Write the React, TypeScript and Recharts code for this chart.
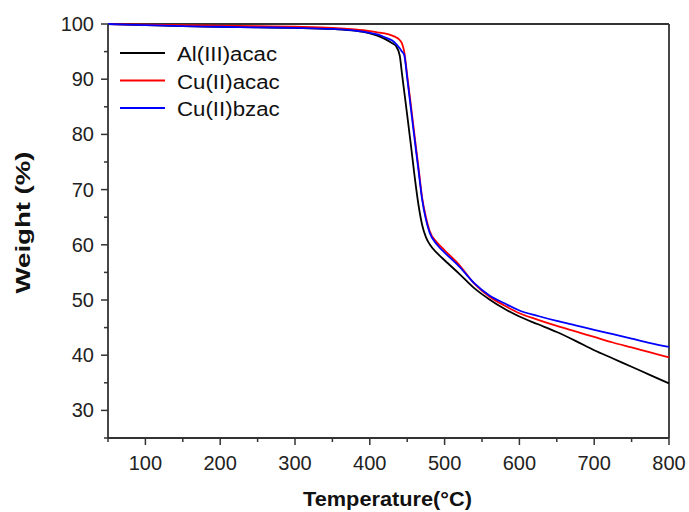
import React from "react";
import { LineChart, Line, XAxis, YAxis, Legend, ReferenceLine } from "recharts";

// TGA curves
const temperature = [50, 100, 150, 200, 250, 300, 350, 380, 400, 410, 420, 430, 435, 440, 443, 446, 450, 455, 460, 465, 470, 475, 480, 490, 500, 520, 540, 560, 580, 600, 625, 650, 675, 700, 725, 750, 775, 800];
const alAcac = [100, 99.8, 99.6, 99.5, 99.4, 99.3, 99.1, 98.8, 98.3, 97.9, 97.3, 96.5, 96.0, 94.3, 91.0, 87.8, 83.5, 78.0, 72.3, 67.3, 63.6, 61.4, 60.1, 58.5, 57.2, 54.7, 52.1, 50.1, 48.4, 47.0, 45.6, 44.2, 42.6, 40.9, 39.4, 37.9, 36.4, 34.9];
const cuAcac = [100, 99.9, 99.8, 99.7, 99.6, 99.5, 99.3, 99.0, 98.7, 98.5, 98.3, 97.9, 97.6, 97.1, 96.5, 95.0, 90.7, 85.2, 79.6, 74.1, 68.5, 65.0, 62.5, 60.4, 59.0, 56.3, 52.9, 50.6, 49.0, 47.6, 46.4, 45.3, 44.3, 43.3, 42.3, 41.4, 40.5, 39.6];
const cuBzac = [100, 99.8, 99.6, 99.5, 99.4, 99.3, 99.1, 98.8, 98.4, 98.1, 97.6, 97.0, 96.4, 95.6, 95.0, 94.4, 90.2, 84.6, 79.0, 73.6, 68.2, 64.6, 62.2, 60.0, 58.6, 56.0, 53.0, 50.8, 49.4, 48.1, 47.1, 46.2, 45.4, 44.6, 43.8, 43.0, 42.2, 41.5];

const xTicks = [50, 100, 150, 200, 250, 300, 350, 400, 450, 500, 550, 600, 650, 700, 750, 800];
const yTicks = [25, 30, 35, 40, 45, 50, 55, 60, 65, 70, 75, 80, 85, 90, 95, 100];

const seriesInfo = [
  { key: "al", name: "Al(III)acac", color: "#000000", textLen: 100 },
  { key: "cuA", name: "Cu(II)acac", color: "#ff0000", textLen: 102.7 },
  { key: "cuB", name: "Cu(II)bzac", color: "#0000ff", textLen: 102.7 },
];

const data = temperature.map((t, i) => ({ t, al: alAcac[i], cuA: cuAcac[i], cuB: cuBzac[i] }));

const FONT = "'Liberation Sans', Arial, sans-serif";
const AXIS = "#333333";

function XTick({ x, y, payload }: any) {
  const major = payload.value % 100 === 0;
  return (
    <g>
      <line x1={x} y1={y} x2={x} y2={y + (major ? 7 : 4)} stroke={AXIS} strokeWidth={1.5} />
      {major && (
        <text x={x} y={y + 32} textAnchor="middle" fontSize={20} fill="#222" fontFamily={FONT}>
          {payload.value}
        </text>
      )}
    </g>
  );
}

function YTick({ x, y, payload }: any) {
  const major = payload.value % 10 === 0;
  return (
    <g>
      <line x1={x} y1={y} x2={x - (major ? 7 : 4)} y2={y} stroke={AXIS} strokeWidth={1.5} />
      {major && (
        <text x={x - 14} y={y + 7} textAnchor="end" fontSize={20} fill="#222" fontFamily={FONT}>
          {payload.value}
        </text>
      )}
    </g>
  );
}

const renderLegend = () => (
  <svg width={200} height={85}>
    {seriesInfo.map((s, i) => {
      const ly = 13 + i * 27.5;
      return (
        <g key={s.key}>
          <line x1={5} y1={ly} x2={50} y2={ly} stroke={s.color} strokeWidth={1.8} />
          <text x={62} y={ly + 8.4} fontSize={19.5} fill="#111" fontFamily={FONT} textLength={s.textLen} lengthAdjust="spacingAndGlyphs">
            {s.name}
          </text>
        </g>
      );
    })}
  </svg>
);

export default function App() {
  return (
    <div style={{ position: "absolute", left: 0, top: 0, background: "#fff" }}>
      <LineChart width={689} height={512} data={data} margin={{ top: 24, right: 20, left: 0, bottom: 0 }}>
        <XAxis
          dataKey="t"
          type="number"
          domain={[50, 800]}
          ticks={xTicks}
          interval={0}
          height={74}
          tickSize={0}
          tickMargin={0}
          tickLine={false}
          axisLine={{ stroke: AXIS, strokeWidth: 1.8 }}
          tick={<XTick />}
          label={{
            content: ({ viewBox }: any) => (
              <text
                x={viewBox.x + viewBox.width / 2 - 1}
                y={viewBox.y + 68}
                textAnchor="middle"
                fontSize={21}
                fontWeight="bold"
                fill="#111"
                fontFamily={FONT}
                textLength={169}
                lengthAdjust="spacingAndGlyphs"
              >
                Temperature(°C)
              </text>
            ),
          }}
        />
        <YAxis
          type="number"
          domain={[25, 100]}
          ticks={yTicks}
          interval={0}
          width={108}
          tickSize={0}
          tickMargin={0}
          tickLine={false}
          axisLine={{ stroke: AXIS, strokeWidth: 1.8 }}
          tick={<YTick />}
          label={{
            content: ({ viewBox }: any) => {
              const cx = viewBox.x + 30;
              const cy = viewBox.y + viewBox.height / 2 - 8.5;
              return (
                <text
                  x={cx}
                  y={cy}
                  transform={`rotate(-90 ${cx} ${cy})`}
                  textAnchor="middle"
                  fontSize={21}
                  fontWeight="bold"
                  fill="#111"
                  fontFamily={FONT}
                  textLength={142}
                  lengthAdjust="spacingAndGlyphs"
                >
                  Weight (%)
                </text>
              );
            },
          }}
        />
        <ReferenceLine y={100} stroke={AXIS} strokeWidth={1.8} />
        <ReferenceLine x={800} stroke={AXIS} strokeWidth={1.8} />
        <Legend
          layout="vertical"
          verticalAlign="middle"
          align="center"
          wrapperStyle={{ left: 115, top: 40, width: 200, height: 85 }}
          content={renderLegend}
        />
        {seriesInfo.map((s) => (
          <Line
            key={s.key}
            dataKey={s.key}
            name={s.name}
            type="monotone"
            stroke={s.color}
            strokeWidth={1.8}
            dot={false}
            isAnimationActive={false}
          />
        ))}
      </LineChart>
    </div>
  );
}
